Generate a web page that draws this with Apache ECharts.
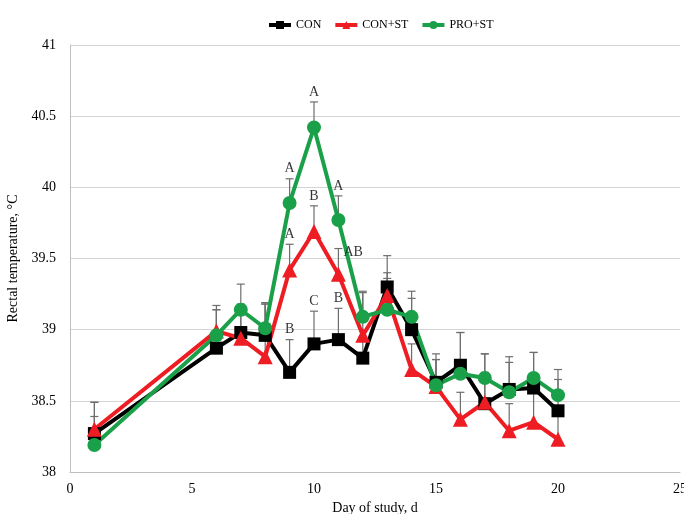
<!DOCTYPE html>
<html>
<head>
<meta charset="utf-8">
<script src="https://cdn.jsdelivr.net/npm/echarts@6/dist/echarts.min.js"></script>
<style>html,body{margin:0;padding:0;background:#fff}#c{width:684px;height:514px}</style>
</head>
<body>
<div id="c"></div>
<script>
const days = [1, 6, 7, 8, 9, 10, 11, 12, 13, 14, 15, 16, 17, 18, 19, 20];
const con = [38.27, 38.87, 38.98, 38.96, 38.70, 38.90, 38.93, 38.80, 39.30, 39.00, 38.63, 38.75, 38.48, 38.58, 38.59, 38.43];
const conSt = [38.30, 38.99, 38.94, 38.81, 39.42, 39.69, 39.39, 38.96, 39.24, 38.72, 38.60, 38.37, 38.49, 38.29, 38.35, 38.23];
const proSt = [38.19, 38.96, 39.14, 39.01, 39.89, 40.42, 39.77, 39.09, 39.14, 39.09, 38.61, 38.69, 38.66, 38.56, 38.66, 38.54];
const conErr = [0.22, 0.27, 0.20, 0.22, 0.23, 0.23, 0.22, 0.15, 0.22, 0.22, 0.20, 0.23, 0.35, 0.23, 0.25, 0.22];
const conStErr = [0.19, 0.15, 0.22, 0.37, 0.18, 0.18, 0.18, 0.30, 0.16, 0.18, 0.19, 0.19, 0.21, 0.19, 0.22, 0.22];
const proStErr = [0.20, 0.21, 0.18, 0.18, 0.17, 0.18, 0.17, 0.18, 0.22, 0.18, 0.18, 0.29, 0.17, 0.21, 0.18, 0.18];
const letterDays = [9, 10, 11];
const conLetters = ['B', 'C', 'B'];
const conStLetters = ['A', 'B', 'AB'];
const proStLetters = ['A', 'A', 'A'];
const seriesNames = ['CON', 'CON+ST', 'PRO+ST'];
const colors = ['#000000', '#ee1d23', '#1ba04a'];

const FONT = 'Liberation Serif';
const chart = echarts.init(document.getElementById('c'));

function errData(vals, errs) {
  return days.map((d, i) => [d, vals[i], vals[i] + errs[i]]);
}
function errSeries(vals, errs) {
  return {
    type: 'custom', z: 1, silent: true,
    renderItem: function (params, api) {
      const p0 = api.coord([api.value(0), api.value(1)]);
      const p1 = api.coord([api.value(0), api.value(2)]);
      const st = { stroke: '#6e6e6e', lineWidth: 1.2 };
      return { type: 'group', children: [
        { type: 'line', shape: { x1: p0[0], y1: p0[1], x2: p1[0], y2: p1[1] }, style: st },
        { type: 'line', shape: { x1: p1[0] - 4, y1: p1[1], x2: p1[0] + 4, y2: p1[1] }, style: st }
      ] };
    },
    data: errData(vals, errs)
  };
}
function letterSeries(vals, errs, letters) {
  return {
    type: 'scatter', symbolSize: 0, silent: true, z: 5,
    data: letterDays.map((d, k) => {
      const i = days.indexOf(d);
      const txt = letters[k];
      const item = { value: [d, vals[i] + errs[i]], name: txt };
      if (txt === 'AB') {
        item.label = { position: 'right', offset: [2, 4] };
      }
      return item;
    }),
    label: {
      show: true, position: 'top', distance: 3, formatter: p => p.name,
      fontFamily: FONT, fontSize: 14, color: '#000'
    }
  };
}
function lineSeries(k, vals, symbol, size) {
  return {
    name: seriesNames[k], type: 'line', z: 3,
    data: days.map((d, i) => [d, vals[i]]),
    symbol: symbol, symbolSize: size,
    lineStyle: { color: colors[k], width: 4 },
    itemStyle: { color: colors[k] }
  };
}

chart.setOption({
  animation: false,
  color: colors,
  legend: {
    top: 14, left: 262, itemWidth: 22, itemHeight: 10, itemGap: 12,
    data: seriesNames,
    lineStyle: { width: 4 },
    textStyle: { fontFamily: FONT, fontSize: 12, color: '#000' }
  },
  grid: { left: 70, right: 4, top: 45, bottom: 42, outerBoundsMode: 'none', containLabel: false },
  xAxis: {
    type: 'value', min: 0, max: 25, interval: 5,
    name: 'Day of study, d', nameLocation: 'middle', nameGap: 27,
    nameTextStyle: { fontFamily: FONT, fontSize: 14, color: '#000' },
    axisLine: { lineStyle: { color: '#bfbfbf', width: 1 } },
    axisTick: { show: false },
    splitLine: { show: false },
    axisLabel: { fontFamily: FONT, fontSize: 14, color: '#000', margin: 10 }
  },
  yAxis: {
    type: 'value', min: 38, max: 41, interval: 0.5,
    name: 'Rectal temperature, °C', nameLocation: 'middle', nameGap: 49,
    nameTextStyle: { fontFamily: FONT, fontSize: 14, color: '#000' },
    axisLine: { show: true, lineStyle: { color: '#bfbfbf', width: 1 } },
    axisTick: { show: false },
    splitLine: { lineStyle: { color: '#d4d4d4', width: 1 } },
    axisLabel: { fontFamily: FONT, fontSize: 14, color: '#000', margin: 14 }
  },
  series: [
    errSeries(con, conErr),
    errSeries(conSt, conStErr),
    errSeries(proSt, proStErr),
    lineSeries(0, con, 'rect', 13),
    lineSeries(1, conSt, 'triangle', 15),
    lineSeries(2, proSt, 'circle', 14),
    letterSeries(con, conErr, conLetters),
    letterSeries(conSt, conStErr, conStLetters),
    letterSeries(proSt, proStErr, proStLetters)
  ]
});
</script>
</body>
</html>
